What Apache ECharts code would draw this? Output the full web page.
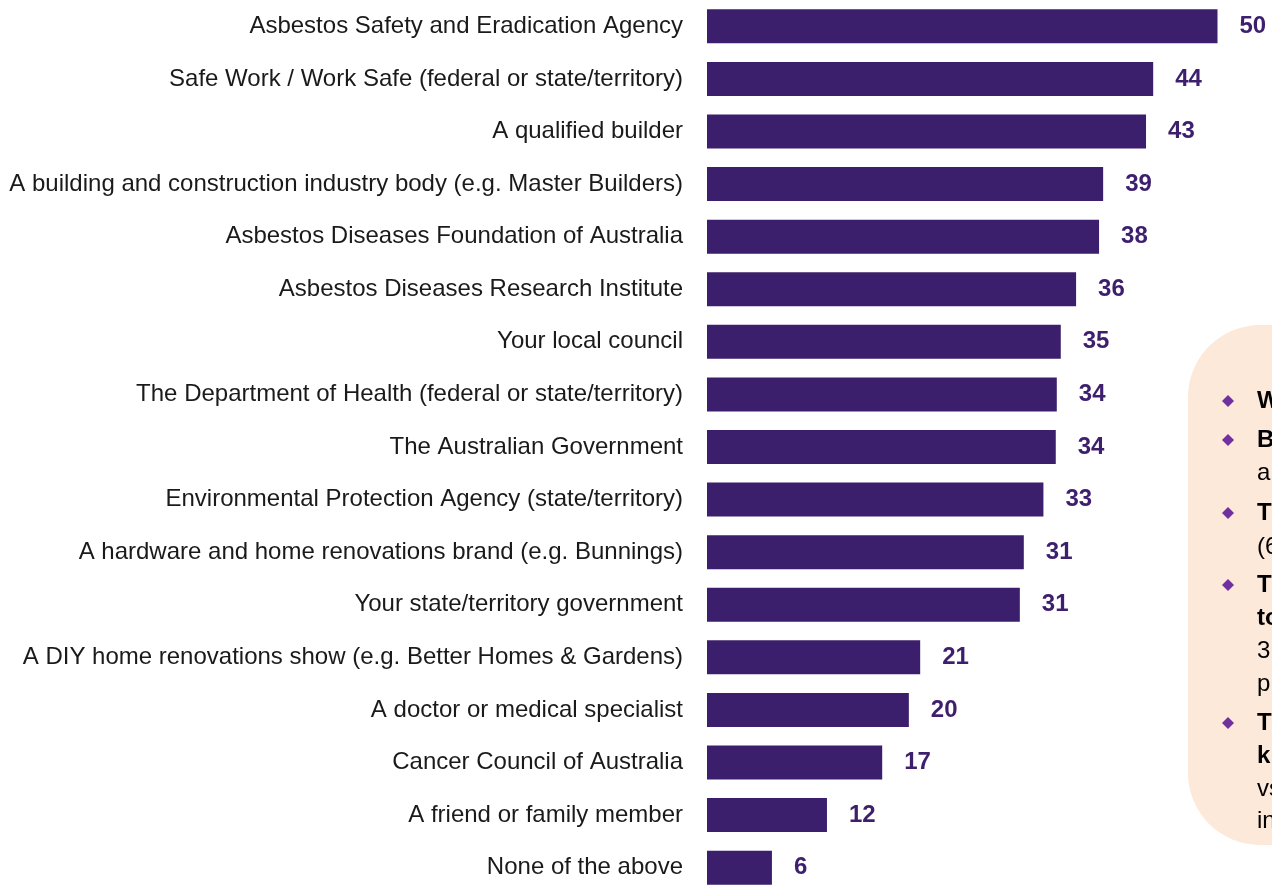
<!DOCTYPE html>
<html lang="en">
<head>
    <meta charset="UTF-8">
    <title>Trusted sources</title>
    <script src="https://cdn.jsdelivr.net/npm/echarts@6/dist/echarts.min.js"></script>
    <style>
        body { margin: 0; padding: 0; background: #fff; }
        #chart { width: 1272px; height: 894px; }
    </style>
</head>
<body>
<div id="chart"></div>
<script>
    // categories, top to bottom
    const categories = [
        'Asbestos Safety and Eradication Agency',
        'Safe Work / Work Safe (federal or state/territory)',
        'A qualified builder',
        'A building and construction industry body (e.g. Master Builders)',
        'Asbestos Diseases Foundation of Australia',
        'Asbestos Diseases Research Institute',
        'Your local council',
        'The Department of Health (federal or state/territory)',
        'The Australian Government',
        'Environmental Protection Agency (state/territory)',
        'A hardware and home renovations brand (e.g. Bunnings)',
        'Your state/territory government',
        'A DIY home renovations show (e.g. Better Homes & Gardens)',
        'A doctor or medical specialist',
        'Cancer Council of Australia',
        'A friend or family member',
        'None of the above'
    ];

    // bar lengths (%)
    const shares = [50, 43.7, 43.0, 38.8, 38.4, 36.15, 34.65, 34.26, 34.16, 32.95, 31.03, 30.64, 20.88, 19.77, 17.16, 11.75, 6.36];

    // labels printed next to the bars
    const printed = [50, 44, 43, 39, 38, 36, 35, 34, 34, 33, 31, 31, 21, 20, 17, 12, 6];

    // side note box (only the part inside the frame shows)
    const noteLines = [
        { text: 'W', bold: true, bullet: true, y: 401 },
        { text: 'B', bold: true, bullet: true, y: 440 },
        { text: 'a', bold: false, bullet: false, y: 473 },
        { text: 'T', bold: true, bullet: true, y: 513 },
        { text: '(6', bold: false, bullet: false, y: 547 },
        { text: 'T', bold: true, bullet: true, y: 585 },
        { text: 'to', bold: true, bullet: false, y: 618 },
        { text: '3', bold: false, bullet: false, y: 651 },
        { text: 'p', bold: false, bullet: false, y: 684 },
        { text: 'T', bold: true, bullet: true, y: 723 },
        { text: 'k', bold: true, bullet: false, y: 756 },
        { text: 'vs', bold: false, bullet: false, y: 789 },
        { text: 'in', bold: false, bullet: false, y: 821 }
    ];

    const font = '"Liberation Sans", Arial, sans-serif';
    const purple = '#3c1f6c';

    const graphics = [{
        type: 'rect',
        z: 0,
        shape: { x: 1188, y: 325, width: 200, height: 520, r: 72 },
        style: { fill: '#fde9d9' }
    }];

    noteLines.forEach(line => {
        if (line.bullet) {
            graphics.push({
                type: 'polygon',
                z: 1,
                shape: { points: [[1228, line.y - 6], [1234, line.y], [1228, line.y + 6], [1222, line.y]] },
                style: { fill: '#7030a0' }
            });
        }
        graphics.push({
            type: 'text',
            z: 1,
            x: 1257,
            y: line.y,
            style: {
                text: line.text,
                fill: '#000',
                font: (line.bold ? 'bold ' : '') + '24px ' + font,
                verticalAlign: 'middle'
            }
        });
    });

    const chart = echarts.init(document.getElementById('chart'));

    chart.setOption({
        animation: false,
        grid: {
            left: 707,
            right: 54.5,
            top: -3.7,
            height: 911.2,
            containLabel: false
        },
        xAxis: {
            type: 'value',
            min: 0,
            max: 50,
            show: false
        },
        yAxis: {
            type: 'category',
            data: categories,
            inverse: true,
            axisLine: { show: false },
            axisTick: { show: false },
            axisLabel: {
                margin: 24,
                fontSize: 24,
                fontFamily: font,
                color: '#1a1a1a'
            }
        },
        series: [{
            type: 'bar',
            data: shares,
            barWidth: 34,
            itemStyle: { color: purple },
            label: {
                show: true,
                position: 'right',
                distance: 22,
                fontSize: 24,
                fontWeight: 'bold',
                fontFamily: font,
                color: '#3d1f6e',
                formatter: p => String(printed[p.dataIndex])
            }
        }],
        graphic: graphics
    });
</script>
</body>
</html>
